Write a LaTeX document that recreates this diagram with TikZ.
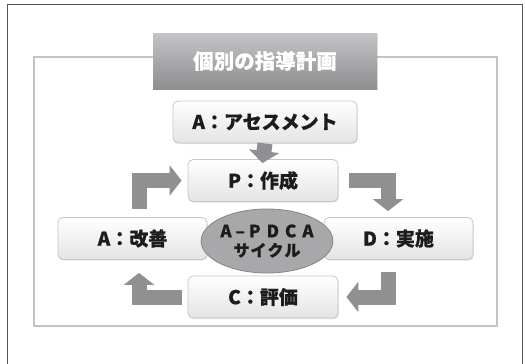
\documentclass[tikz,border=0pt]{standalone}
\usepackage{fontspec}
\newfontfamily\jp{Noto Sans CJK JP}[BoldFeatures={FakeBold=0.6}]
\usetikzlibrary{shadows,arrows.meta,calc,shapes.geometric}
\definecolor{frameC}{HTML}{555555}
\definecolor{innerC}{HTML}{C4C4C6}
\definecolor{tTop}{HTML}{C4C4C6}
\definecolor{tBot}{HTML}{8E8E90}
\definecolor{bTop}{HTML}{FFFFFF}
\definecolor{bBot}{HTML}{E4E4E6}
\definecolor{bLine}{HTML}{C6C6C8}
\definecolor{ellC}{HTML}{A8A8AA}
\definecolor{ellLine}{HTML}{858587}
\definecolor{arrC}{HTML}{909092}
\definecolor{txtC}{HTML}{1C1C1C}
\tikzset{
  outerline/.style={draw=frameC, line width=1.2pt},
  innerline/.style={draw=innerC, line width=1.4pt},
  titlebox/.style={rectangle, minimum width=224pt, minimum height=56pt, top color=tTop, bottom color=tBot,
     text=white, font=\jp\bfseries\fontsize{20.5}{24}\selectfont,
     drop shadow={shadow xshift=0.8pt, shadow yshift=-1.2pt, opacity=0.25}},
  stagebox/.style={rectangle, rounded corners=5pt, draw=bLine, line width=0.8pt, top color=bTop, bottom color=bBot,
     text=txtC, font=\jp\bfseries\fontsize{19}{22}\selectfont, minimum height=42pt,
     drop shadow={shadow xshift=0.8pt, shadow yshift=-1.2pt, opacity=0.2}},
  cyc/.style={ellipse, draw=ellLine, line width=0.8pt, fill=ellC, minimum width=128pt, minimum height=64pt,
     inner sep=0pt, text=txtC, align=center, font=\jp\bfseries\fontsize{17}{20}\selectfont},
  blk/.style={draw=arrC, line width=15pt, -{Triangle[width=30pt,length=12pt]}},
}
\begin{document}
\begin{tikzpicture}[x=1pt,y=-1pt]
\useasboundingbox (0,0) rectangle (525,364);
\draw[outerline] (7.5,364) -- (7.5,4.5) -- (522.5,4.5) -- (522.5,364);
\draw[innerline] (34,57) rectangle (497,326);
\node[titlebox] (t) at (265,61) {個別の指導計画};

\node[stagebox, minimum width=184pt] (as) at (265,122) {A：アセスメント};
\node[stagebox, minimum width=150pt] (p) at (263,180.5) {P：作成};
\node[stagebox, minimum width=149pt] (ai) at (132.5,238.5) {A：改善};
\node[stagebox, minimum width=149pt] (d) at (398.5,238.5) {D：実施};
\node[stagebox, minimum width=150pt] (c) at (263,297) {C：評価};
\node[cyc] (e) at (267,241) {A\hspace{4pt}–\hspace{4pt}P\hspace{6pt}D\hspace{6pt}C\hspace{6pt}A\\[-1pt]
  {\fontsize{16}{20}\selectfont サ\hspace{1pt}イ\hspace{1pt}ク\hspace{1pt}ル}};

\coordinate (xl) at (139,0);
\coordinate (xr) at (388,0);
\draw[blk, shorten >=-4pt] (as.south) -- (p.north);
\draw[blk, shorten <=8pt, shorten >=6pt] (ai.north -| xl) |- (p.west);
\draw[blk, shorten <=11pt, shorten >=6pt] (p.east) -| (d.north -| xr);
\draw[blk, shorten <=12pt, shorten >=8pt] (d.south -| xr) |- (c.east);
\draw[blk, shorten <=6pt, shorten >=13pt] (c.west) -| (ai.south -| xl);
\end{tikzpicture}
\end{document}
